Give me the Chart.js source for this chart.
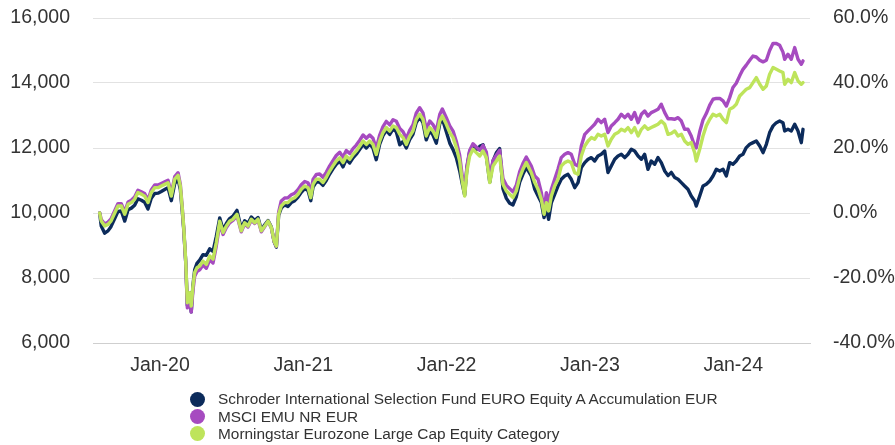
<!DOCTYPE html>
<html>
<head>
<meta charset="utf-8">
<script src="https://cdn.jsdelivr.net/npm/chart.js@4/dist/chart.umd.min.js"></script>
<style>
html,body{margin:0;padding:0;background:#fff;}
#wrap{position:relative;width:895px;height:445px;overflow:hidden;}
#c{position:absolute;left:0;top:0;}
#legend{position:absolute;left:189.5px;top:390.6px;font-family:"Liberation Sans",Arial,sans-serif;font-size:15.4px;color:#333;}
.item{display:flex;align-items:center;height:17.3px;white-space:nowrap;}
.dot{width:15px;height:15px;border-radius:50%;margin-right:13.5px;flex:none;}
</style>
</head>
<body>
<div id="wrap">
<canvas id="c" width="895" height="445"></canvas>
<div id="legend"></div>
</div>
<script>
// Decimal years of each sample
const years = [
2019.579,2019.590,2019.614,2019.637,2019.658,2019.684,2019.707,2019.730,2019.754,2019.777,
2019.800,2019.823,2019.846,2019.870,2019.893,2019.916,2019.939,2019.963,2019.986,2020.009,
2020.033,2020.056,2020.079,2020.103,2020.126,2020.142,2020.156,2020.165,2020.179,2020.191,
2020.207,2020.218,2020.230,2020.242,2020.258,2020.277,2020.300,2020.323,2020.347,2020.370,
2020.393,2020.417,2020.440,2020.463,2020.486,2020.509,2020.537,2020.567,2020.591,2020.614,
2020.637,2020.661,2020.684,2020.707,2020.731,2020.754,2020.777,2020.796,2020.812,2020.828,
2020.846,2020.870,2020.893,2020.916,2020.940,2020.963,2020.986,2021.010,2021.033,2021.052,
2021.068,2021.091,2021.114,2021.137,2021.160,2021.184,2021.207,2021.230,2021.254,2021.277,
2021.300,2021.324,2021.347,2021.370,2021.394,2021.417,2021.440,2021.463,2021.486,2021.509,
2021.533,2021.556,2021.579,2021.603,2021.626,2021.649,2021.673,2021.696,2021.719,2021.742,
2021.765,2021.788,2021.812,2021.835,2021.858,2021.882,2021.905,2021.928,2021.952,2021.970,
2021.998,2022.022,2022.045,2022.068,2022.091,2022.109,2022.126,2022.142,2022.161,2022.184,
2022.207,2022.231,2022.254,2022.277,2022.301,2022.324,2022.347,2022.370,2022.393,2022.417,
2022.440,2022.463,2022.486,2022.510,2022.533,2022.556,2022.591,2022.615,2022.638,2022.661,
2022.680,2022.696,2022.712,2022.731,2022.754,2022.777,2022.800,2022.824,2022.847,2022.870,
2022.894,2022.917,2022.940,2022.964,2022.987,2023.010,2023.033,2023.056,2023.079,2023.103,
2023.126,2023.149,2023.173,2023.196,2023.219,2023.243,2023.266,2023.289,2023.312,2023.336,
2023.359,2023.382,2023.405,2023.428,2023.452,2023.475,2023.498,2023.522,2023.545,2023.568,
2023.592,2023.615,2023.638,2023.661,2023.684,2023.707,2023.731,2023.742,2023.766,2023.789,
2023.812,2023.836,2023.859,2023.882,2023.906,2023.929,2023.952,2023.975,2023.998,2024.021,
2024.045,2024.068,2024.091,2024.115,2024.138,2024.161,2024.185,2024.208,2024.231,2024.254,
2024.278,2024.301,2024.324,2024.347,2024.359,2024.382,2024.405,2024.429,2024.452,2024.475,
2024.487
];

// Schroder International Selection Fund EURO Equity A Accumulation EUR
const fundValues = [
10000,9600,9380,9450,9580,9830,10050,10060,9750,10100,
10150,10240,10440,10390,10330,10120,10450,10600,10610,10660,
10720,10780,10380,10910,11040,10720,10020,9530,8530,7150,
7550,6960,7780,8250,8450,8550,8720,8700,8900,8820,
9280,9850,9480,9680,9830,9900,10080,9520,9760,9680,
9880,9770,9860,9480,9640,9770,9570,9120,8950,9930,
10150,10250,10200,10320,10380,10490,10640,10750,10690,10380,
10800,10960,10950,10850,11000,11200,11360,11500,11600,11420,
11650,11540,11700,11810,11960,12110,12000,12120,12000,11640,
12120,12380,12540,12420,12580,12500,12100,12200,12000,12260,
12420,12780,12950,12780,12250,12530,12400,12150,12750,12900,
12500,12150,11950,11700,11300,10900,10550,11400,11900,12080,
11950,12050,12100,11750,10950,11600,11850,11980,10750,10450,
10300,10250,10500,10950,11200,11400,11140,10730,10523,10320,
9858,10165,9806,10320,10575,10830,11037,11140,11190,11037,
10780,10935,11395,11550,11652,11704,11600,11754,11806,11908,
11243,11446,11652,11754,11806,11704,11806,11960,11908,11754,
11652,11806,11345,11600,11498,11704,11550,11292,11150,11250,
11089,11037,10935,10830,10730,10523,10370,10215,10523,10830,
10883,10985,11140,11345,11292,11345,11140,11550,11500,11600,
11754,11806,12012,12114,12165,12215,12062,11858,12114,12474,
12680,12780,12830,12780,12525,12575,12525,12730,12525,12165,
12575
];

// MSCI EMU NR EUR
const indexValues = [
10000,9800,9660,9720,9820,10070,10290,10290,10030,10340,
10390,10490,10700,10650,10600,10400,10710,10860,10860,10910,
10960,11010,10600,11120,11240,10880,10130,9580,8520,7080,
7420,6950,7620,8050,8200,8250,8400,8300,8560,8460,
8990,9680,9340,9550,9700,9770,9920,9420,9670,9570,
9780,9680,9790,9420,9580,9740,9540,9130,8970,10030,
10370,10460,10470,10560,10610,10720,10870,10970,10930,10620,
11030,11190,11200,11100,11250,11450,11610,11770,11870,11720,
11920,11830,11980,12090,12240,12400,12300,12400,12300,11990,
12400,12660,12820,12710,12870,12820,12600,12500,12290,12540,
12710,13070,13240,13080,12570,12830,12720,12520,13030,13200,
12930,12680,12520,12200,11780,11150,10650,11450,11920,12130,
12030,11930,12080,11880,11100,11620,11780,11930,11060,10850,
10750,10650,10850,11270,11530,11720,11446,11140,11037,10628,
10062,10628,10320,10730,11037,11345,11704,11806,11858,11806,
11498,11446,12062,12420,12525,12628,12730,12883,12780,12883,
12474,12680,12780,12883,13037,12935,13037,12883,13089,12780,
13037,13140,12985,13089,13140,13190,13345,13089,12900,12900,
12883,12935,12830,12575,12575,12370,12062,12000,12500,12860,
13060,13320,13500,13525,13525,13450,13290,13550,13860,13990,
14220,14420,14550,14700,14830,14800,14700,14650,14700,15000,
15220,15215,15160,14950,14730,14883,14730,15089,14730,14576,
14680
];

// Morningstar Eurozone Large Cap Equity Category
const categoryValues = [
10000,9754,9600,9650,9750,10000,10215,10215,9960,10270,
10320,10420,10630,10580,10520,10320,10630,10780,10780,10830,
10880,10930,10520,11040,11160,10830,10110,9600,8575,7240,
7550,7140,7750,8170,8320,8370,8520,8420,8680,8580,
9090,9750,9400,9600,9750,9810,9960,9450,9700,9600,
9810,9700,9810,9450,9600,9750,9550,9140,8980,9960,
10215,10320,10320,10420,10470,10575,10730,10830,10780,10470,
10880,11040,11040,10940,11090,11290,11450,11600,11700,11550,
11750,11650,11800,11910,12060,12215,12110,12215,12110,11800,
12215,12470,12630,12520,12680,12630,12420,12320,12110,12360,
12520,12880,13040,12880,12370,12630,12520,12320,12830,12985,
12730,12474,12320,12012,11600,10985,10523,11292,11754,11960,
11858,11754,11908,11704,10935,11446,11600,11754,10883,10677,
10575,10474,10677,11089,11350,11550,11240,10935,10730,10420,
9960,10320,10062,10523,10830,11037,11446,11550,11600,11550,
11240,11190,11754,12062,12215,12320,12270,12420,12370,12420,
12062,12270,12420,12474,12575,12525,12628,12474,12628,12370,
12575,12680,12575,12628,12680,12730,12830,12730,12420,12450,
12525,12370,12420,12215,12114,12165,11858,11600,11960,12370,
12680,12883,13037,12985,13037,12883,12780,13190,13243,13345,
13600,13705,13806,13857,14012,14166,13960,13806,13908,14268,
14474,14423,14370,14320,13960,14114,14012,14320,14063,13960,
14012
];

const seriesNames = [
  'Schroder International Selection Fund EURO Equity A Accumulation EUR',
  'MSCI EMU NR EUR',
  'Morningstar Eurozone Large Cap Equity Category'
];
const seriesColors = ['#0c2b5b', '#a64bc0', '#bee45b'];

const leftTicks = [6000, 8000, 10000, 12000, 14000, 16000];
const rightTicks = [-40, -20, 0, 20, 40, 60];
const xTickYears = [2020, 2021, 2022, 2023, 2024];

const allValues = [fundValues, indexValues, categoryValues];
const drawOrder = [3, 2, 1];

const datasets = allValues.map((vals, k) => ({
  label: seriesNames[k],
  data: years.map((yr, i) => ({x: yr, y: vals[i]})),
  borderColor: seriesColors[k],
  backgroundColor: seriesColors[k],
  borderWidth: 3.4,
  pointRadius: 0,
  pointHoverRadius: 0,
  tension: 0,
  fill: false,
  borderJoinStyle: 'round',
  borderCapStyle: 'round',
  order: drawOrder[k],
  yAxisID: 'y'
}));

const FONT = {family: '"Liberation Sans", Arial, sans-serif', size: 19.5};
const TICK_COLOR = '#333333';

new Chart(document.getElementById('c'), {
  type: 'line',
  data: {datasets},
  options: {
    responsive: false,
    animation: false,
    devicePixelRatio: 1,
    layout: {padding: {top: 18, bottom: 62, left: 0, right: 0}},
    plugins: {legend: {display: false}, tooltip: {enabled: false}},
    scales: {
      x: {
        type: 'linear',
        min: 2019.5325,
        max: 2024.5357,
        afterBuildTicks: (s) => { s.ticks = xTickYears.map(v => ({value: v})); },
        afterFit: (s) => { s.height = 40; s.paddingLeft = 0; s.paddingRight = 0; },
        ticks: {
          autoSkip: false,
          maxRotation: 0,
          padding: 11,
          color: TICK_COLOR,
          font: FONT,
          callback: (v) => 'Jan-' + String(v).slice(2)
        },
        grid: {display: false, drawTicks: false},
        border: {display: true, color: '#cfcfcf', width: 1}
      },
      y: {
        position: 'left',
        min: leftTicks[0],
        max: leftTicks[leftTicks.length - 1],
        afterBuildTicks: (s) => { s.ticks = leftTicks.map(v => ({value: v})); },
        afterFit: (s) => { s.width = 93; s.paddingTop = 10; s.paddingBottom = 10; },
        ticks: {
          padding: 23,
          color: TICK_COLOR,
          font: FONT,
          callback: (v) => v.toLocaleString('en-US')
        },
        grid: {color: '#e2e2e2', lineWidth: 1, drawTicks: false},
        border: {display: false}
      },
      y1: {
        position: 'right',
        min: rightTicks[0],
        max: rightTicks[rightTicks.length - 1],
        afterBuildTicks: (s) => { s.ticks = rightTicks.map(v => ({value: v})); },
        afterFit: (s) => { s.width = 85; s.paddingTop = 10; s.paddingBottom = 10; },
        ticks: {
          padding: 23,
          color: TICK_COLOR,
          font: FONT,
          callback: (v) => v.toFixed(1) + '%'
        },
        grid: {display: false, drawTicks: false},
        border: {display: false}
      }
    }
  }
});

// HTML legend
const legendEl = document.getElementById('legend');
seriesNames.forEach((name, k) => {
  const row = document.createElement('div');
  row.className = 'item';
  const dot = document.createElement('span');
  dot.className = 'dot';
  dot.style.background = seriesColors[k];
  const txt = document.createElement('span');
  txt.textContent = name;
  row.appendChild(dot);
  row.appendChild(txt);
  legendEl.appendChild(row);
});
</script>
</body>
</html>
